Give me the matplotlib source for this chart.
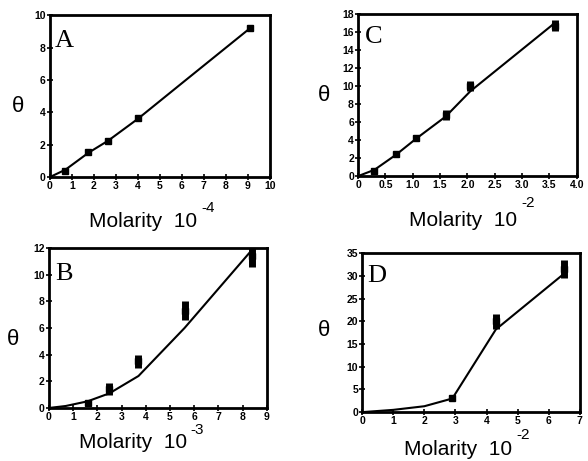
import numpy as np
import matplotlib
matplotlib.use("Agg")
import matplotlib.pyplot as plt

plt.rcParams['font.family'] = ['Liberation Sans', 'DejaVu Sans']
plt.rcParams['mathtext.default'] = 'regular'

# Panel A  (Molarity 10^-4)
a_line_x = [0, 0.7, 1.75, 2.65, 4.0, 6.0, 9.1]
a_line_y = [0, 0.45, 1.5, 2.25, 3.6, 5.8, 9.2]
a_x = [0.7, 1.75, 2.65, 4.0, 9.1]
a_y = [0.4, 1.55, 2.25, 3.65, 9.2]
a_err = [0.15, 0.15, 0.15, 0.15, 0.2]

# Panel B  (Molarity 10^-3)
b_line_x = [0, 0.7, 1.6, 2.5, 3.7, 5.6, 8.4]
b_line_y = [0, 0.15, 0.5, 1.1, 2.4, 6.0, 11.9]
b_x = [1.6, 2.5, 3.7, 5.6, 8.4]
b_y = [0.35, 1.4, 3.5, 7.3, 11.4]
b_err = [0.15, 0.45, 0.5, 0.7, 0.85]

# Panel C  (Molarity 10^-2)
c_line_x = [0, 0.3, 0.7, 1.05, 1.6, 2.05, 3.6]
c_line_y = [0, 0.7, 2.4, 4.1, 6.6, 9.4, 17.0]
c_x = [0.3, 0.7, 1.05, 1.6, 2.05, 3.6]
c_y = [0.6, 2.4, 4.2, 6.8, 10.0, 16.7]
c_err = [0.3, 0.3, 0.35, 0.55, 0.55, 0.65]

# Panel D  (Molarity 10^-2)
d_line_x = [0, 1.0, 2.0, 2.9, 4.3, 6.5]
d_line_y = [0, 0.5, 1.3, 3.0, 18.2, 30.5]
d_x = [2.9, 4.3, 6.5]
d_y = [3.2, 20.0, 31.5]
d_err = [0.6, 1.6, 1.9]

# per panel: axes rect, data, limits, ticks, exponent,
# pixel offsets (from axes corner) for: letter, xlabel right end, exponent, theta
panels = [
    dict(letter="A", rect=[0.085, 0.616, 0.374, 0.351],
         lx=a_line_x, ly=a_line_y, px=a_x, py=a_y, perr=a_err,
         xlim=(0, 10), xt=np.arange(0, 11, 1), ylim=(0, 10), yt=np.arange(0, 11, 2),
         xtl=["%d" % v for v in range(11)], expo="-4",
         let=(5, -32), lab=(147, -44), exp=(151, -38), th=(-32, 71)),
    dict(letter="C", rect=[0.609, 0.618, 0.372, 0.352],
         lx=c_line_x, ly=c_line_y, px=c_x, py=c_y, perr=c_err,
         xlim=(0, 4), xt=np.arange(0, 4.01, 0.5), ylim=(0, 18), yt=np.arange(0, 19, 2),
         xtl=["0"] + ["%.1f" % v for v in np.arange(0.5, 4.01, 0.5)], expo="-2",
         let=(7, -29), lab=(159, -44), exp=(163, -34), th=(-35, 81)),
    dict(letter="B", rect=[0.083, 0.115, 0.371, 0.347],
         lx=b_line_x, ly=b_line_y, px=b_x, py=b_y, perr=b_err,
         xlim=(0, 9), xt=np.arange(0, 10, 1), ylim=(0, 12), yt=np.arange(0, 13, 2),
         xtl=["%d" % v for v in range(10)], expo="-3",
         let=(6, -32), lab=(138, -35), exp=(142, -29), th=(-36, 68)),
    dict(letter="D", rect=[0.616, 0.106, 0.370, 0.345],
         lx=d_line_x, ly=d_line_y, px=d_x, py=d_y, perr=d_err,
         xlim=(0, 7), xt=np.arange(0, 8, 1), ylim=(0, 35), yt=np.arange(0, 36, 5),
         xtl=["%d" % v for v in range(8)], expo="-2",
         let=(5, -29), lab=(150, -37), exp=(154, -30), th=(-39, 82)),
]

fig = plt.figure(figsize=(5.88, 4.61), dpi=100)

for p in panels:
    ax = fig.add_axes(p["rect"])
    ax.plot(p["lx"], p["ly"], color='black', lw=1.5, solid_capstyle='round')
    ax.plot(p["px"], p["py"], 's', color='black', ms=4.5)
    lo = np.array(p["py"]) - np.array(p["perr"])
    hi = np.array(p["py"]) + np.array(p["perr"])
    ax.vlines(p["px"], lo, hi, color='black', lw=5)
    ax.set_xlim(p["xlim"])
    ax.set_ylim(p["ylim"])
    ax.set_xticks(p["xt"])
    ax.set_xticklabels(p["xtl"])
    ax.set_yticks(p["yt"])
    for s in ax.spines.values():
        s.set_linewidth(2)
    ax.tick_params(direction='inout', length=4, width=1.2, labelsize=7.5, pad=1)
    for t in ax.get_xticklabels() + ax.get_yticklabels():
        t.set_fontweight('bold')

    # panel letter
    ax.annotate(p["letter"], xy=(0, 1), xycoords='axes fraction', xytext=p["let"],
                textcoords='offset pixels', ha='left', va='baseline',
                fontsize=19, family=['Liberation Serif', 'DejaVu Serif'])
    # axis labels
    ax.annotate('Molarity  10', xy=(0, 0), xycoords='axes fraction', xytext=p["lab"],
                textcoords='offset pixels', ha='right', va='center', fontsize=15)
    ax.annotate(p["expo"], xy=(0, 0), xycoords='axes fraction', xytext=p["exp"],
                textcoords='offset pixels', ha='left', va='bottom', fontsize=11)
    ax.annotate(r'$\theta$', xy=(0, 0), xycoords='axes fraction', xytext=p["th"],
                textcoords='offset pixels', ha='center', va='center', fontsize=16)

fig.savefig("out.png", dpi=100)
